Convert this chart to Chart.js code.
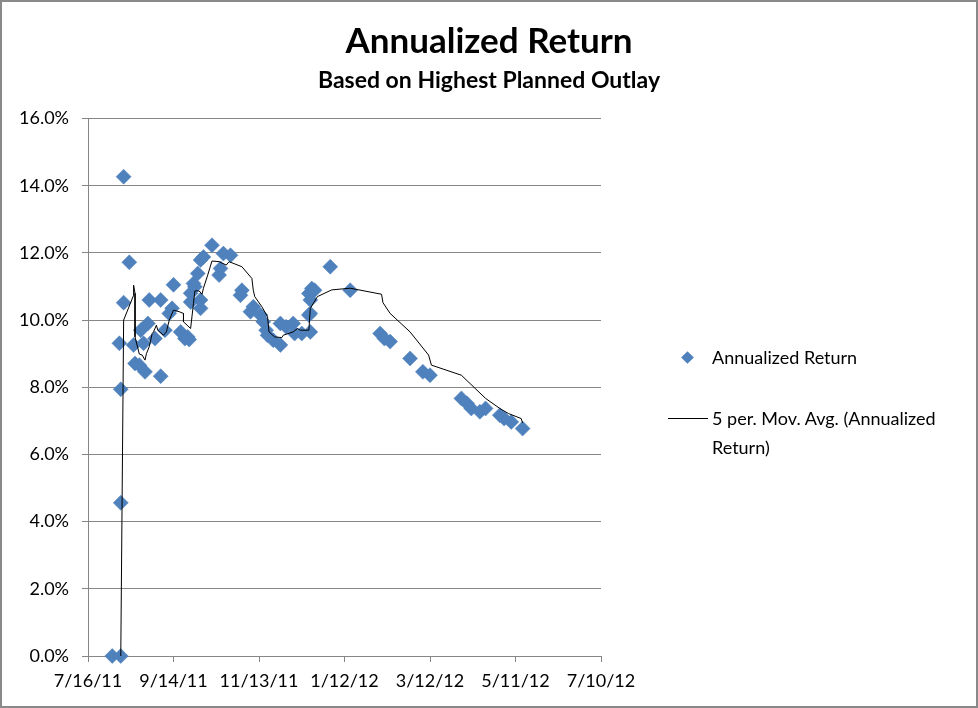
<!DOCTYPE html>
<html>
<head>
<meta charset="utf-8">
<script src="https://cdn.jsdelivr.net/npm/chart.js@4.4.1/dist/chart.umd.min.js"></script>
<style>
  html, body { margin: 0; padding: 0; background: #fff; }
  #wrap { position: relative; width: 978px; height: 708px; font-family: 'Lato', sans-serif; }
  #chart { position: absolute; left: 0; top: 0; }
  #frame { position: absolute; left: 0; top: 0; width: 978px; height: 708px; box-sizing: border-box; border: 2px solid #898989; pointer-events: none; }
  .lg { position: absolute; font-size: 18px; color: #000; line-height: 29px; white-space: nowrap; }
  #dia { position: absolute; left: 683px; top: 353px; width: 9px; height: 9px; background: #4F81BD; transform: rotate(45deg); }
  #lline { position: absolute; left: 668px; top: 418px; width: 40px; height: 1px; background: #000; }
</style>
</head>
<body>
<div id="wrap">
  <canvas id="chart" width="978" height="708"></canvas>
  <div id="dia"></div>
  <div class="lg" style="left:712px; top:343px;">Annualized Return</div>
  <div id="lline"></div>
  <div class="lg" style="left:712px; top:404px;">5 per. Mov. Avg. (Annualized<br>Return)</div>
  <div id="frame"></div>
</div>
<script>
// ---- data ----
const titleText = 'Annualized Return';
const subtitleText = 'Based on Highest Planned Outlay';
const seriesName = 'Annualized Return';
const trendName = '5 per. Mov. Avg. (Annualized Return)';

const xTickLabels = ['7/16/11', '9/14/11', '11/13/11', '1/12/12', '3/12/12', '5/11/12', '7/10/12'];
const yTickValues = [0, 2, 4, 6, 8, 10, 12, 14, 16];

const returnDates = ['8/2/11','8/8/11','8/8/11','8/8/11','8/7/11','8/10/11','8/10/11','8/14/11','8/17/11','8/18/11',
  '8/21/11','8/22/11','8/24/11','8/25/11','8/27/11','8/28/11','9/1/11','9/5/11','9/5/11','9/8/11',
  '9/11/11','9/13/11','9/14/11','9/19/11','9/22/11','9/24/11','9/25/11','9/26/11','9/26/11','9/28/11',
  '9/29/11','10/1/11','10/3/11','10/3/11','10/3/11','10/5/11','10/11/11','10/16/11','10/17/11','10/19/11',
  '10/24/11','10/31/11','11/1/11','11/7/11','11/9/11','11/14/11','11/16/11','11/18/11','11/19/11','11/23/11',
  '11/28/11','11/28/11','12/2/11','12/7/11','12/8/11','12/13/11','12/18/11','12/19/11','12/19/11','12/19/11',
  '12/18/11','12/20/11','12/22/11','1/2/12','1/16/12','2/6/12','2/9/12','2/13/12','2/27/12','3/7/12',
  '3/12/12','4/3/12','4/7/12','4/10/12','4/16/12','4/20/12','4/30/12','5/3/12','5/8/12','5/16/12'];
const returnValues = [0,0,4.56,7.94,9.31,10.52,14.27,11.72,9.26,8.71,
  8.66,9.70,9.31,8.46,9.90,10.60,9.45,8.33,10.60,9.70,
  10.20,10.35,11.05,9.65,9.45,9.50,9.42,10.80,10.54,11.09,
  10.99,11.39,10.60,10.35,11.79,11.88,12.23,11.34,11.54,11.98,
  11.93,10.74,10.89,10.25,10.40,10.15,9.95,9.70,9.55,9.40,
  9.26,9.90,9.80,9.90,9.60,9.60,10.15,9.65,10.60,10.20,
  10.79,10.94,10.89,11.59,10.89,9.60,9.45,9.36,8.86,8.46,
  8.36,7.67,7.52,7.37,7.27,7.37,7.17,7.07,6.97,6.77];

const maDates = ['8/8/11','8/10/11','8/17/11','8/17/11','8/18/11','8/18/11','8/21/11','8/23/11','8/25/11','8/26/11',
  '8/28/11','8/30/11','8/31/11','9/2/11','9/3/11','9/7/11','9/9/11','9/11/11','9/14/11','9/18/11',
  '9/21/11','9/21/11','9/26/11','9/28/11','9/29/11','10/2/11','10/4/11','10/5/11','10/8/11','10/11/11',
  '10/16/11','10/21/11','10/23/11','11/1/11','11/8/11','11/9/11','11/10/11','11/15/11','11/19/11','11/20/11',
  '11/24/11','11/29/11','11/30/11','12/7/11','12/10/11','12/12/11','12/18/11','12/19/11','12/24/11','1/3/12',
  '1/16/12','2/7/12','2/8/12','2/13/12','2/27/12','3/11/12','3/13/12','4/3/12','4/20/12','4/30/12',
  '5/6/12','5/15/12','5/16/12'];
const maValues = [0,10.0,10.74,11.04,10.8,9.50,8.99,8.96,8.81,9.0,
  9.21,9.60,9.65,9.85,9.70,9.55,9.65,10.0,10.30,10.25,
  10.2,9.95,9.75,10.49,10.87,10.87,10.77,10.95,11.34,11.76,
  11.74,11.64,11.74,11.59,11.24,10.89,10.70,10.40,10.1,9.65,
  9.50,9.48,9.55,9.65,9.75,9.70,9.70,10.35,10.70,10.90,
  10.95,10.77,10.52,10.2,9.65,8.96,8.66,8.36,7.67,7.37,
  7.22,7.07,6.94];

// ---- helpers ----
function dayNum(s) {
  const [m, d, y] = s.split('/').map(Number);
  return Date.UTC(2000 + y, m - 1, d) / 864e5;
}
const day0 = dayNum(xTickLabels[0]);
const dayEnd = dayNum(xTickLabels[xTickLabels.length - 1]);
const toPts = (ds, vs) => ds.map((s, i) => ({ x: dayNum(s) - day0, y: vs[i] }));

const grey = '#868686';
Chart.defaults.font.family = 'Lato, sans-serif';
Chart.defaults.color = '#000';

new Chart(document.getElementById('chart'), {
  type: 'scatter',
  data: {
    datasets: [
      {
        label: trendName,
        data: toPts(maDates, maValues),
        showLine: true,
        borderColor: '#000',
        borderWidth: 1,
        pointRadius: 0,
        fill: false,
        tension: 0,
        order: 0,
        clip: false
      },
      {
        label: seriesName,
        data: toPts(returnDates, returnValues),
        pointStyle: 'rectRot',
        pointRadius: 7.5,
        backgroundColor: '#4F81BD',
        borderColor: '#4F81BD',
        borderWidth: 0.5,
        order: 1,
        clip: false
      }
    ]
  },
  options: {
    responsive: false,
    animation: false,
    devicePixelRatio: 1,
    layout: { padding: { left: 0, right: 0, top: 0, bottom: 0 } },
    plugins: {
      legend: { display: false },
      tooltip: { enabled: false },
      title: {
        display: true,
        text: titleText,
        font: { size: 35, weight: 'bold' },
        color: '#000',
        padding: { top: 21, bottom: 0 }
      },
      subtitle: {
        display: true,
        text: subtitleText,
        font: { size: 23, weight: 'bold' },
        color: '#000',
        padding: { top: 4, bottom: 24 }
      }
    },
    scales: {
      x: {
        type: 'linear',
        min: 0,
        max: dayEnd - day0,
        afterBuildTicks: (scale) => {
          scale.ticks = xTickLabels.map(s => ({ value: dayNum(s) - day0 }));
        },
        afterFit: (scale) => { scale.height = 52; },
        ticks: {
          font: { size: 18 },
          color: '#000',
          padding: 8,
          maxRotation: 0,
          autoSkip: false,
          callback: (v, i) => xTickLabels[i]
        },
        grid: { drawOnChartArea: false, drawTicks: true, tickLength: 6, color: grey },
        border: { display: true, color: grey, width: 1 }
      },
      y: {
        type: 'linear',
        min: 0,
        max: 16,
        afterBuildTicks: (scale) => {
          scale.ticks = yTickValues.map(v => ({ value: v }));
        },
        afterFit: (scale) => { scale.width = 88; },
        ticks: {
          font: { size: 18 },
          color: '#000',
          padding: 13,
          callback: (v) => v.toFixed(1) + '%'
        },
        grid: { color: grey, lineWidth: 1, tickLength: 6 },
        border: { display: true, color: grey, width: 1 }
      },
      legendSpace: {
        type: 'linear',
        position: 'right',
        display: true,
        afterFit: (scale) => { scale.width = 377; },
        ticks: { display: false },
        grid: { display: false, drawTicks: false },
        border: { display: false }
      }
    }
  }
});
</script>
</body>
</html>
